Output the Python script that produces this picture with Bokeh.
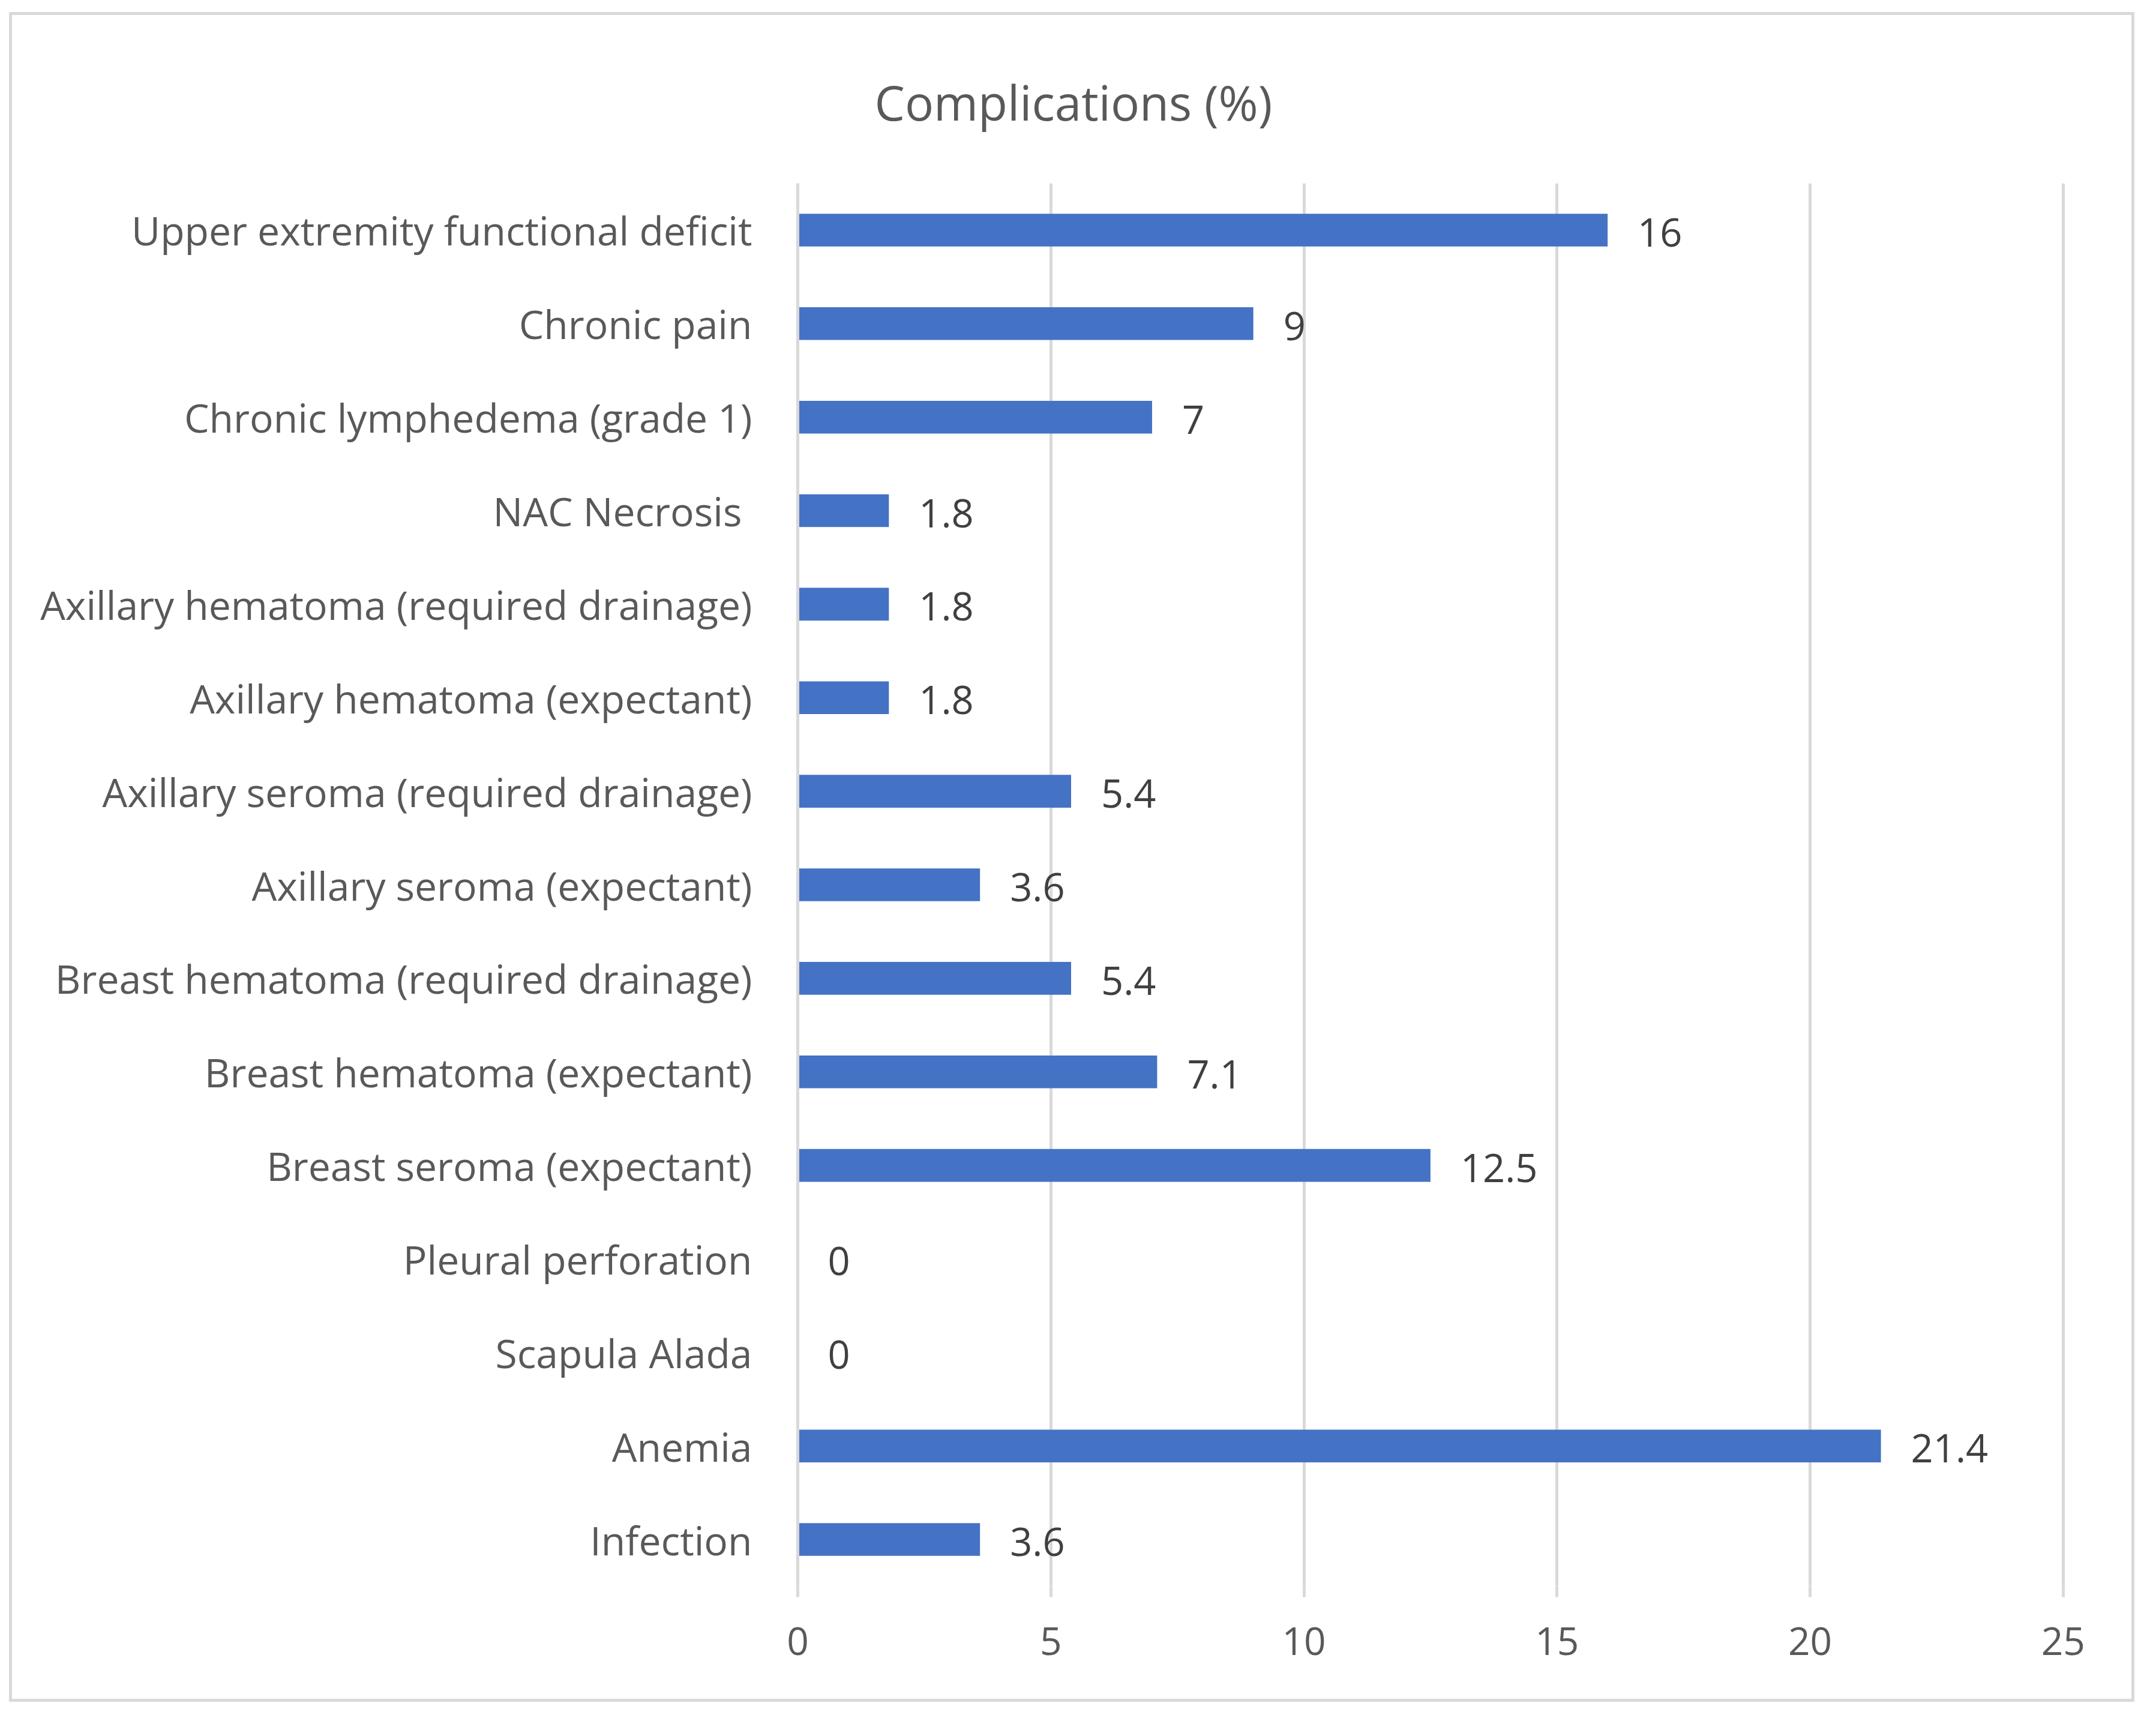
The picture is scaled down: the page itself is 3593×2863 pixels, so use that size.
from bokeh.plotting import figure
from bokeh.models import ColumnDataSource, FactorRange, Range1d, FixedTicker
from bokeh.core.properties import value
from bokeh.embed import file_html
from bokeh.resources import INLINE

categories = [
    "Upper extremity functional deficit",
    "Chronic pain",
    "Chronic lymphedema (grade 1)",
    "NAC Necrosis ",
    "Axillary hematoma (required drainage)",
    "Axillary hematoma (expectant)",
    "Axillary seroma (required drainage)",
    "Axillary seroma (expectant)",
    "Breast hematoma (required drainage)",
    "Breast hematoma (expectant)",
    "Breast seroma (expectant)",
    "Pleural perforation",
    "Scapula Alada",
    "Anemia",
    "Infection",
]
values = [16, 9, 7, 1.8, 1.8, 1.8, 5.4, 3.6, 5.4, 7.1, 12.5, 0, 0, 21.4, 3.6]
value_labels = ["16", "9", "7", "1.8", "1.8", "1.8", "5.4", "3.6", "5.4", "7.1", "12.5", "0", "0", "21.4", "3.6"]
x_ticks = [0, 5, 10, 15, 20, 25]
title_text = "Complications (%)"

FONT = "Open Sans"
GRAY = "#d9d9d9"

src = ColumnDataSource(dict(cat=categories, val=values, lab=value_labels))

W, H = 3542, 2816
p = figure(
    width=W, height=H,
    y_range=FactorRange(*list(reversed(categories))),
    x_range=Range1d(0, 25.05),
    output_backend="svg", toolbar_location=None,
    min_border_left=1309, min_border_right=120,
    min_border_top=280, min_border_bottom=198,
)
p.margin = (20, 0, 0, 15)
p.styles = {"border": "5px solid " + GRAY, "box-sizing": "border-box"}

p.hbar(y="cat", right="val", left=0, height=0.35, source=src,
       fill_color="#4472C4", line_color=None)
p.text(x="val", y="cat", text="lab", source=src, x_offset=50, y_offset=4,
       text_font=value(FONT), text_font_size="65px", text_color="#404040",
       text_baseline="middle", text_align="left")

p.title.text = title_text
p.title.align = "left"
p.title.offset = 128
p.title.standoff = 160
p.title.vertical_align = "top"
p.title.text_font = FONT
p.title.text_font_size = "80px"
p.title.text_font_style = "normal"
p.title.text_color = "#595959"

p.outline_line_color = None
p.ygrid.grid_line_color = None
p.xgrid.grid_line_color = GRAY
p.xgrid.grid_line_width = 5
p.xgrid.ticker = FixedTicker(ticks=x_ticks)

p.xaxis.ticker = FixedTicker(ticks=x_ticks)
p.xaxis.axis_line_color = None
p.xaxis.major_tick_line_color = GRAY
p.xaxis.major_tick_line_width = 5
p.xaxis.major_tick_out = 18
p.xaxis.major_tick_in = 0
p.xaxis.minor_tick_line_color = None
p.xaxis.major_label_standoff = 50
p.xaxis.major_label_text_font = FONT
p.xaxis.major_label_text_font_size = "64px"
p.xaxis.major_label_text_color = "#595959"

p.yaxis.axis_line_color = GRAY
p.yaxis.axis_line_width = 5
p.yaxis.major_tick_line_color = None
p.yaxis.minor_tick_line_color = None
p.yaxis.major_label_standoff = 70
p.yaxis.major_label_text_font = FONT
p.yaxis.major_label_text_font_size = "66px"
p.yaxis.major_label_text_color = "#595959"

p.background_fill_color = "white"
p.border_fill_color = "white"

open("out.html", "w").write(file_html(p, INLINE))
